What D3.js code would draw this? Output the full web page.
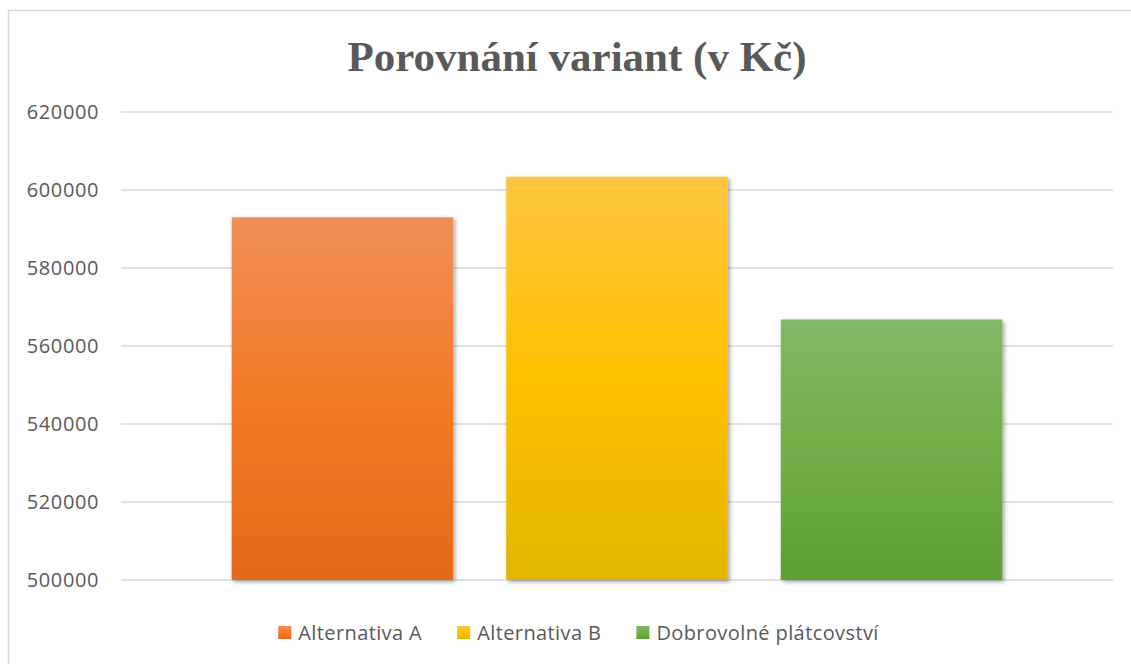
<!DOCTYPE html>
<html lang="cs">

<head>
    <meta charset="UTF-8">
    <title>Porovnání variant</title>
    <script src="https://d3js.org/d3.v7.min.js"></script>
    <style>
        body { margin: 0; background: #fff; }
        svg { display: block; }
    </style>
</head>

<body>
    <script>
        // data
        const categories = ["Alternativa A", "Alternativa B", "Dobrovolné plátcovství"];
        const values = [593000, 603400, 566800];
        const yTicks = [500000, 520000, 540000, 560000, 580000, 600000, 620000];
        const colors = [
            ["#F08E57", "#F37A26", "#E3691A"],
            ["#FFC63F", "#FFC000", "#E2B500"],
            ["#82B865", "#72AE48", "#5E9E35"]
        ];

        const width = 1131;
        const height = 664;
        const margin = { top: 112, right: 18, bottom: 84, left: 121 };

        const svg = d3.select("body").append("svg")
            .attr("width", width)
            .attr("height", height);

        const defs = svg.append("defs");

        // gradients for the bars
        colors.forEach((c, i) => {
            const g = defs.append("linearGradient")
                .attr("id", "grad-" + i)
                .attr("x1", 0).attr("y1", 0).attr("x2", 0).attr("y2", 1);
            g.append("stop").attr("offset", "0%").attr("stop-color", c[0]);
            g.append("stop").attr("offset", "50%").attr("stop-color", c[1]);
            g.append("stop").attr("offset", "100%").attr("stop-color", c[2]);
        });

        // soft shadow under bars
        const shadow = defs.append("filter").attr("id", "shadow")
            .attr("x", "-10%").attr("y", "-10%").attr("width", "130%").attr("height", "130%");
        shadow.append("feDropShadow")
            .attr("dx", 2).attr("dy", 2).attr("stdDeviation", 2)
            .attr("flood-color", "#000").attr("flood-opacity", 0.35);

        // chart border (only top and left are in view)
        svg.append("rect")
            .attr("x", 8.5).attr("y", 10.5)
            .attr("width", 1200).attr("height", 700)
            .attr("fill", "none")
            .attr("stroke", "#d9d9d9")
            .attr("stroke-width", 1.5);

        const x = d3.scaleBand()
            .domain(categories)
            .range([margin.left, width - margin.right])
            .paddingInner(0.193)
            .paddingOuter(0.403);

        const y = d3.scaleLinear()
            .domain([500000, 620000])
            .range([height - margin.bottom, margin.top]);

        // gridlines
        svg.append("g")
            .selectAll("line")
            .data(yTicks)
            .join("line")
            .attr("x1", margin.left)
            .attr("x2", width - margin.right)
            .attr("y1", d => y(d))
            .attr("y2", d => y(d))
            .attr("stroke", "#d9d9d9")
            .attr("stroke-width", 1.5);

        // y axis labels
        const yAxis = svg.append("g")
            .attr("transform", `translate(${margin.left},0)`)
            .call(d3.axisLeft(y).tickValues(yTicks).tickSize(0).tickPadding(22).tickFormat(d3.format("d")));
        yAxis.select(".domain").remove();
        yAxis.selectAll("text")
            .attr("fill", "#595959")
            .style("font", "20px 'Open Sans', sans-serif")
            .style("letter-spacing", "0.6px");

        // bars
        svg.append("g")
            .selectAll("rect")
            .data(values)
            .join("rect")
            .attr("x", (d, i) => x(categories[i]))
            .attr("y", d => y(d))
            .attr("width", x.bandwidth())
            .attr("height", d => y(500000) - y(d))
            .attr("fill", (d, i) => `url(#grad-${i})`)
            .attr("filter", "url(#shadow)");

        // title
        svg.append("text")
            .attr("x", 577)
            .attr("y", 71)
            .attr("text-anchor", "middle")
            .attr("fill", "#595959")
            .style("font", "bold 43px 'Liberation Serif', 'Times New Roman', serif")
            .text("Porovnání variant (v Kč)");

        // legend
        const legend = svg.append("g");
        const items = legend.selectAll("g")
            .data(categories)
            .join("g");
        items.append("rect")
            .attr("width", 13).attr("height", 13)
            .attr("y", -7)
            .attr("fill", (d, i) => `url(#grad-${i})`);
        items.append("text")
            .attr("x", 20)
            .attr("dy", "0.35em")
            .attr("fill", "#595959")
            .style("font", "20px 'Open Sans', sans-serif")
            .style("letter-spacing", "0.4px")
            .text(d => d);

        let offset = 0;
        items.each(function () {
            const w = 20 + d3.select(this).select("text").node().getComputedTextLength();
            d3.select(this).attr("transform", `translate(${offset},0)`);
            offset += w + 35;
        });
        const total = offset - 35;
        legend.attr("transform", `translate(${578.5 - total / 2},633)`);
    </script>
</body>

</html>
